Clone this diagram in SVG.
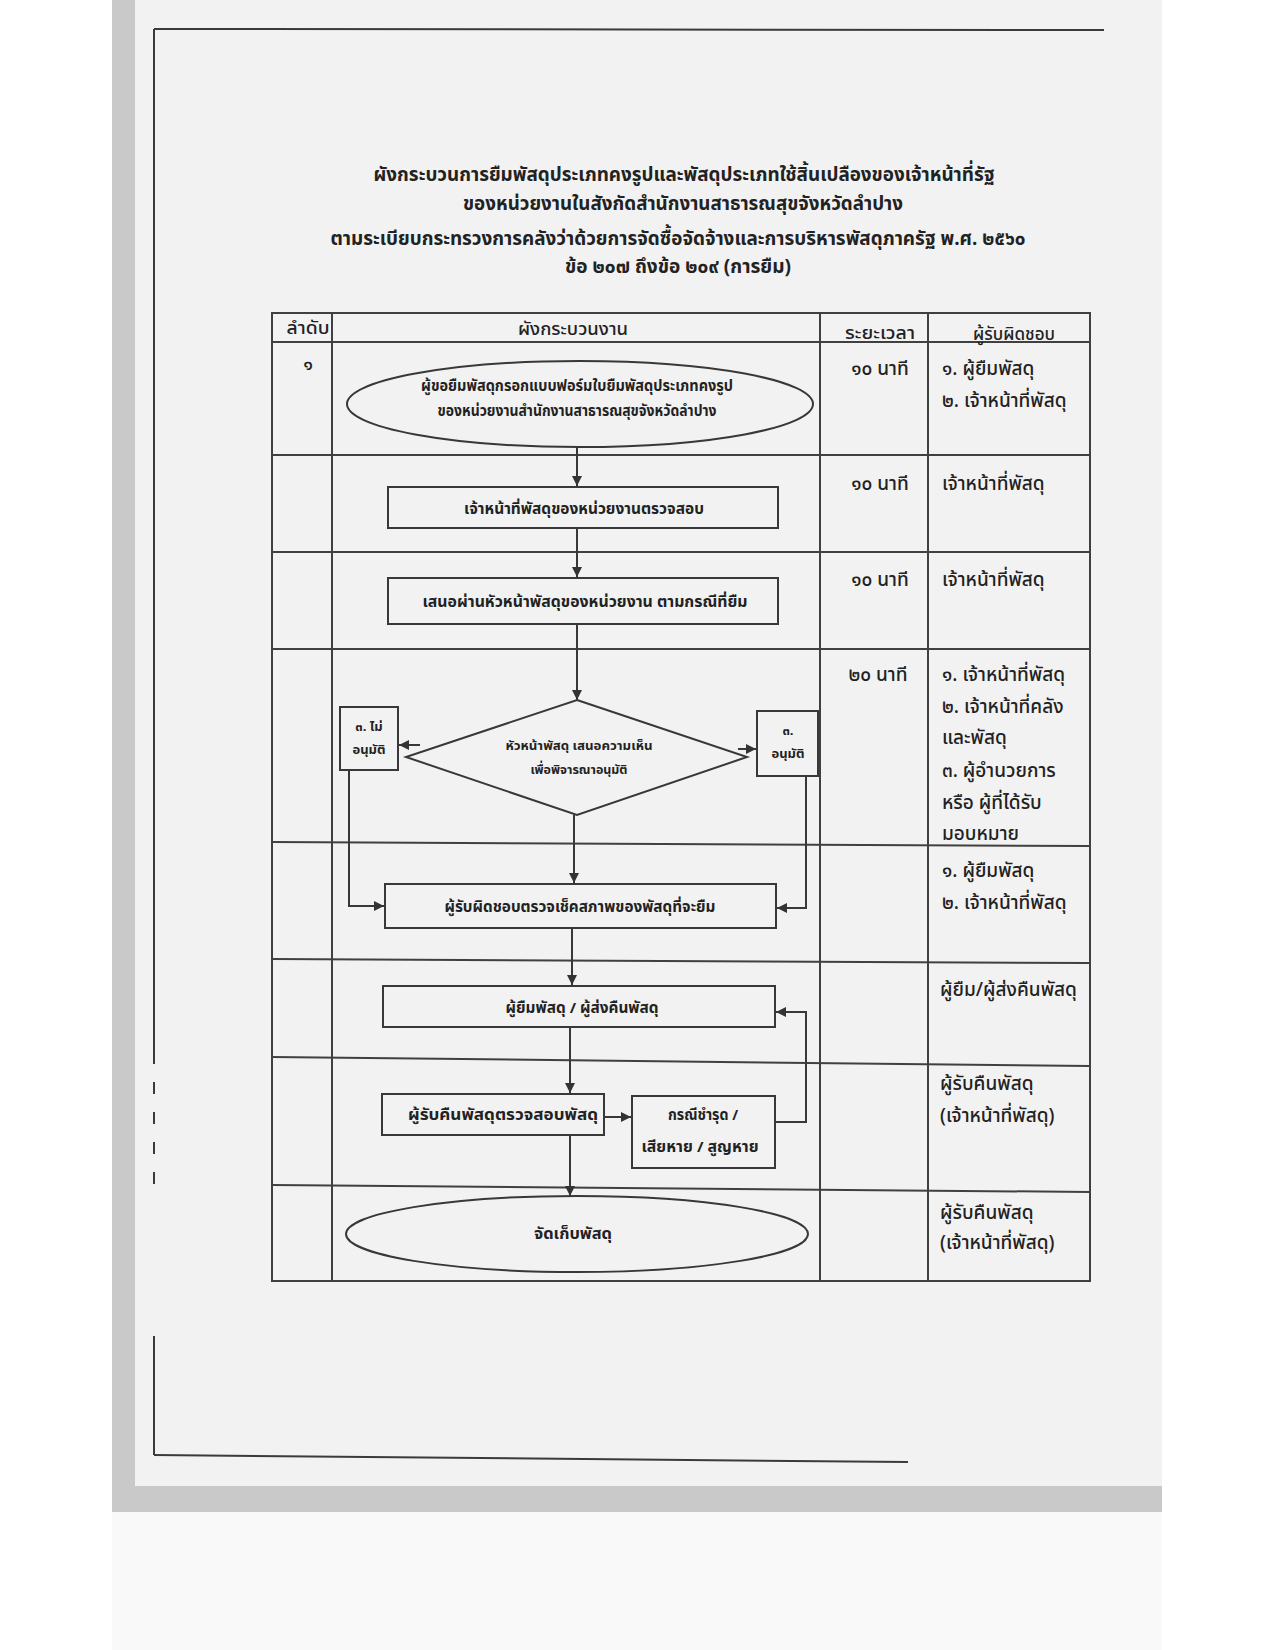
<svg xmlns="http://www.w3.org/2000/svg" width="1275" height="1650" viewBox="0 0 1275 1650">
<defs>
<marker id="ah" viewBox="0 0 10 10" refX="10" refY="5" markerWidth="10" markerHeight="10" markerUnits="userSpaceOnUse" orient="auto">
<path d="M0,0 L10,5 L0,10 z" fill="#333"/>
</marker>
<style>
.t{font-family:"Noto Sans Thai","Loma","Garuda","Tlwg Typist","DejaVu Sans","Noto Sans",sans-serif;fill:#222}
.ti{font-size:20px;font-weight:bold;text-anchor:middle}
.hd{font-size:18px;font-weight:500;text-anchor:middle}
.rs{font-size:19px;font-weight:500}
.tm{font-size:19px;font-weight:500;text-anchor:middle}
.bx{font-size:15px;font-weight:bold;text-anchor:middle}
.sm{font-size:13px;font-weight:bold;text-anchor:middle}
.shape{fill:none;stroke:#383838;stroke-width:2}
.grid{stroke:#404040;stroke-width:2;fill:none}
.conn{stroke:#383838;stroke-width:2;fill:none}
.arr{marker-end:url(#ah)}
.frame{stroke:#3a3a3a;stroke-width:2;fill:none}
</style>
</defs>

<!-- background / scanned page -->
<rect x="0" y="0" width="1275" height="1650" fill="#ffffff"/>
<rect x="112" y="0" width="1050" height="1512" fill="#c9c9c9"/>
<rect x="112" y="1512" width="1050" height="138" fill="#f9f9f9"/>
<rect x="135" y="0" width="1027" height="1486" fill="#f2f2f2"/>

<g id="page-frame">
<line class="frame" x1="154" y1="29" x2="1104" y2="30"/>
<line class="frame" x1="154" y1="29" x2="154" y2="1052"/>
<line class="frame" x1="154" y1="1052" x2="154" y2="1200" stroke-dasharray="12 18"/>
<line class="frame" x1="154" y1="1336" x2="154" y2="1455"/>
<line class="frame" x1="154" y1="1455" x2="908" y2="1462"/>
</g>

<g id="title">
<text class="t ti" x="684" y="181" textLength="621" lengthAdjust="spacingAndGlyphs">ผังกระบวนการยืมพัสดุประเภทคงรูปและพัสดุประเภทใช้สิ้นเปลืองของเจ้าหน้าที่รัฐ</text>
<text class="t ti" x="683" y="210" textLength="440" lengthAdjust="spacingAndGlyphs">ของหน่วยงานในสังกัดสำนักงานสาธารณสุขจังหวัดลำปาง</text>
<text class="t ti" x="678" y="245" textLength="695" lengthAdjust="spacingAndGlyphs">ตามระเบียบกระทรวงการคลังว่าด้วยการจัดซื้อจัดจ้างและการบริหารพัสดุภาครัฐ พ.ศ. ๒๕๖๐</text>
<text class="t ti" x="678" y="273" textLength="226" lengthAdjust="spacingAndGlyphs">ข้อ ๒๐๗ ถึงข้อ ๒๐๙ (การยืม)</text>
</g>

<g id="table">
<rect class="grid" x="272" y="313" width="818" height="968"/>
<line class="grid" x1="332" y1="313" x2="332" y2="1281"/>
<line class="grid" x1="820" y1="313" x2="820" y2="1281"/>
<line class="grid" x1="928" y1="313" x2="928" y2="1281"/>
<line class="grid" x1="272" y1="342" x2="1090" y2="342"/>
<line class="grid" x1="272" y1="455" x2="1090" y2="455"/>
<line class="grid" x1="272" y1="552" x2="1090" y2="552"/>
<line class="grid" x1="272" y1="649" x2="1090" y2="649"/>
<line class="grid" x1="272" y1="842" x2="1090" y2="846"/>
<line class="grid" x1="272" y1="959" x2="1090" y2="963"/>
<line class="grid" x1="272" y1="1057" x2="1090" y2="1066"/>
<line class="grid" x1="272" y1="1185" x2="1090" y2="1192"/>
<text class="t hd" x="308" y="334" textLength="43" lengthAdjust="spacingAndGlyphs">ลำดับ</text>
<text class="t hd" x="573" y="335" textLength="110" lengthAdjust="spacingAndGlyphs">ผังกระบวนงาน</text>
<text class="t hd" x="880" y="339" textLength="70" lengthAdjust="spacingAndGlyphs">ระยะเวลา</text>
<text class="t hd" x="1014" y="340" textLength="82" lengthAdjust="spacingAndGlyphs">ผู้รับผิดชอบ</text>
<text class="t hd" x="308" y="370">๑</text>
</g>

<g id="time">
<text class="t tm" x="880" y="375">๑๐ นาที</text>
<text class="t tm" x="880" y="490">๑๐ นาที</text>
<text class="t tm" x="880" y="586">๑๐ นาที</text>
<text class="t tm" x="878" y="681">๒๐ นาที</text>
</g>

<g id="responsible">
<text class="t rs" x="942" y="375">๑. ผู้ยืมพัสดุ</text>
<text class="t rs" x="942" y="407">๒. เจ้าหน้าที่พัสดุ</text>
<text class="t rs" x="942" y="490">เจ้าหน้าที่พัสดุ</text>
<text class="t rs" x="942" y="586">เจ้าหน้าที่พัสดุ</text>
<text class="t rs" x="942" y="681">๑. เจ้าหน้าที่พัสดุ</text>
<text class="t rs" x="942" y="713">๒. เจ้าหน้าที่คลัง</text>
<text class="t rs" x="942" y="744">และพัสดุ</text>
<text class="t rs" x="942" y="777">๓. ผู้อำนวยการ</text>
<text class="t rs" x="942" y="809">หรือ ผู้ที่ได้รับ</text>
<text class="t rs" x="942" y="840">มอบหมาย</text>
<text class="t rs" x="942" y="877">๑. ผู้ยืมพัสดุ</text>
<text class="t rs" x="942" y="909">๒. เจ้าหน้าที่พัสดุ</text>
<text class="t rs" x="940" y="996">ผู้ยืม/ผู้ส่งคืนพัสดุ</text>
<text class="t rs" x="940" y="1090">ผู้รับคืนพัสดุ</text>
<text class="t rs" x="940" y="1122">(เจ้าหน้าที่พัสดุ)</text>
<text class="t rs" x="940" y="1219">ผู้รับคืนพัสดุ</text>
<text class="t rs" x="940" y="1249">(เจ้าหน้าที่พัสดุ)</text>
</g>

<g id="connectors">
<line class="conn arr" x1="577" y1="447" x2="577" y2="486"/>
<line class="conn arr" x1="577" y1="528" x2="577" y2="577"/>
<line class="conn arr" x1="577" y1="624" x2="577" y2="700"/>
<line class="conn arr" x1="420" y1="745" x2="399" y2="745"/>
<line class="conn arr" x1="738" y1="749" x2="756" y2="749"/>
<line class="conn arr" x1="574" y1="815" x2="574" y2="883"/>
<polyline class="conn arr" points="349,770 349,906 384,906"/>
<polyline class="conn arr" points="806,776 806,908 777,908"/>
<line class="conn arr" x1="572" y1="928" x2="572" y2="985"/>
<line class="conn arr" x1="570" y1="1027" x2="570" y2="1093"/>
<line class="conn arr" x1="604" y1="1117" x2="631" y2="1117"/>
<polyline class="conn arr" points="775,1122 806,1122 806,1012 776,1012"/>
<line class="conn arr" x1="570" y1="1135" x2="570" y2="1196"/>
</g>

<g id="n1">
<ellipse class="shape" cx="580" cy="404" rx="233" ry="43"/>
<text class="t bx" x="577" y="391" textLength="312" lengthAdjust="spacingAndGlyphs">ผู้ขอยืมพัสดุกรอกแบบฟอร์มใบยืมพัสดุประเภทคงรูป</text>
<text class="t bx" x="577" y="416" textLength="279" lengthAdjust="spacingAndGlyphs">ของหน่วยงานสำนักงานสาธารณสุขจังหวัดลำปาง</text>
</g>

<g id="n2">
<rect class="shape" x="388" y="487" width="390" height="41"/>
<text class="t bx" x="584" y="514" textLength="240" lengthAdjust="spacingAndGlyphs">เจ้าหน้าที่พัสดุของหน่วยงานตรวจสอบ</text>
</g>

<g id="n3">
<rect class="shape" x="388" y="578" width="390" height="46"/>
<text class="t bx" x="585" y="607" textLength="325" lengthAdjust="spacingAndGlyphs">เสนอผ่านหัวหน้าพัสดุของหน่วยงาน ตามกรณีที่ยืม</text>
</g>

<g id="n4">
<polygon class="shape" points="577,700 747,757 577,815 406,757"/>
<text class="t sm" x="579" y="750" textLength="147" lengthAdjust="spacingAndGlyphs">หัวหน้าพัสดุ เสนอความเห็น</text>
<text class="t sm" x="579" y="774" textLength="97" lengthAdjust="spacingAndGlyphs">เพื่อพิจารณาอนุมัติ</text>
</g>

<g id="n4a">
<rect class="shape" x="340" y="707" width="58" height="63"/>
<text class="t sm" x="369" y="731">๓. ไม่</text>
<text class="t sm" x="369" y="754">อนุมัติ</text>
</g>

<g id="n4b">
<rect class="shape" x="757" y="711" width="61" height="65"/>
<text class="t sm" x="788" y="735">๓.</text>
<text class="t sm" x="788" y="758">อนุมัติ</text>
</g>

<g id="n5">
<rect class="shape" x="385" y="884" width="391" height="44"/>
<text class="t bx" x="580" y="912" textLength="271" lengthAdjust="spacingAndGlyphs">ผู้รับผิดชอบตรวจเช็คสภาพของพัสดุที่จะยืม</text>
</g>

<g id="n6">
<rect class="shape" x="383" y="986" width="392" height="41"/>
<text class="t bx" x="582" y="1013" textLength="153" lengthAdjust="spacingAndGlyphs">ผู้ยืมพัสดุ / ผู้ส่งคืนพัสดุ</text>
</g>

<g id="n7">
<rect class="shape" x="382" y="1094" width="222" height="41"/>
<text class="t bx" x="503" y="1120" textLength="190" lengthAdjust="spacingAndGlyphs">ผู้รับคืนพัสดุตรวจสอบพัสดุ</text>
</g>

<g id="n8">
<rect class="shape" x="632" y="1096" width="143" height="72"/>
<text class="t bx" x="703" y="1120" textLength="70" lengthAdjust="spacingAndGlyphs">กรณีชำรุด /</text>
<text class="t bx" x="700" y="1152" textLength="117" lengthAdjust="spacingAndGlyphs">เสียหาย / สูญหาย</text>
</g>

<g id="n9">
<ellipse class="shape" cx="577" cy="1234" rx="231" ry="38"/>
<text class="t bx" x="573" y="1239" textLength="78" lengthAdjust="spacingAndGlyphs">จัดเก็บพัสดุ</text>
</g>
</svg>
